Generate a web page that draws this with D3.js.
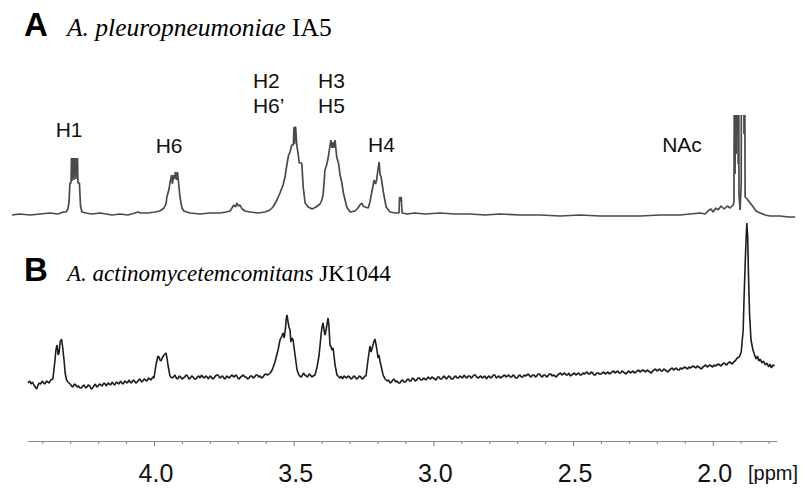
<!DOCTYPE html>
<html><head><meta charset="utf-8">
<script src="https://cdn.jsdelivr.net/npm/d3@7"></script>
<style>body{margin:0;background:#fff}svg{display:block}</style>
</head><body>
<script>
// ---------- data (ppm, intensity in a.u.) ----------
const majorTicks = [4.0, 3.5, 3.0, 2.5, 2.0];
const minorTicks = [4.4,4.3,4.2,4.1,3.9,3.8,3.7,3.6,3.4,3.3,3.2,3.1,2.9,2.8,2.7,2.6,2.4,2.3,2.2,2.1,1.9,1.8];
const axisUnit = "[ppm]";

const panelTitles = [
  {letter: "A", species: "A. pleuropneumoniae", strain: "IA5"},
  {letter: "B", species: "A. actinomycetemcomitans", strain: "JK1044"}
];

const peakLabels = [
  {lines: ["H1"], ppm: 4.304, anchor: "middle"},
  {lines: ["H6"], ppm: 3.946, anchor: "middle"},
  {lines: ["H2", "H6\u2019"], ppm: 3.646, anchor: "start"},
  {lines: ["H3", "H5"], ppm: 3.413, anchor: "start"},
  {lines: ["H4"], ppm: 3.234, anchor: "start"},
  {lines: ["NAc"], ppm: 2.110, anchor: "middle"}
];

// Spectrum A (A. pleuropneumoniae IA5)
const spectrumA = [
[4.508,-1],[4.480,0],[4.444,-1],[4.408,0],[4.372,1],[4.344,0],[4.326,2],[4.315,2],[4.308,5],[4.304,12],
[4.301,31],[4.297,31],[4.2954,56],[4.2936,33],[4.2918,56],[4.2900,36],[4.2882,56],[4.2864,34],[4.2847,56],[4.2829,38],
[4.2811,56],[4.2793,35],[4.2775,56],[4.2757,40],[4.2739,56],[4.2721,31],[4.2703,31],[4.267,31],[4.263,8],[4.258,2],
[4.244,1],[4.222,0],[4.193,1],[4.172,0],[4.150,-1],[4.122,0],[4.093,-1],
[4.068,1],[4.057,2],[4.047,1],[4.022,1],[3.997,2],[3.979,3],[3.964,6],[3.957,10],[3.954,17],[3.946,25],
[3.943,31],[3.937,39],[3.934,30],[3.930,39],[3.927,35],[3.923,42],[3.919,34],[3.916,42],[3.912,31],[3.907,17],
[3.900,6],[3.893,3],[3.871,1],[3.835,0],[3.800,1],[3.764,1],[3.742,2],[3.728,3],[3.721,6],[3.714,9],
[3.708,7],[3.703,11],[3.698,8],[3.692,9],[3.685,5],[3.674,3],[3.656,2],[3.628,1],[3.603,2],[3.585,4],
[3.574,7],[3.560,14],[3.549,21],[3.538,29],[3.531,37],[3.524,50],[3.518,59],[3.513,62],[3.507,69],[3.501,69],
[3.499,87],[3.497,70],[3.495,87],[3.493,87],[3.489,69],[3.484,60],[3.480,51],[3.471,51],[3.466,27],[3.459,11],[3.448,7],
[3.434,5],[3.420,7],[3.406,10],[3.399,14],[3.394,21],[3.388,44],[3.381,50],[3.376,57],[3.367,74],[3.363,66],
[3.358,72],[3.355,66],[3.352,74],[3.346,57],[3.339,50],[3.334,39],[3.328,32],[3.322,21],[3.310,7],[3.298,2],
[3.280,3],[3.270,6],[3.263,9],[3.256,11],[3.252,8],[3.245,7],[3.233,6],[3.227,12],[3.221,21],[3.212,34],
[3.207,30],[3.203,34],[3.198,45],[3.194,52],[3.192,44],[3.191,40],[3.187,37],[3.179,22],[3.169,7],[3.155,2],[3.137,1],
[3.123,1],[3.121,17],[3.118,13],[3.115,17],[3.112,1],[3.094,0],[3.066,1],[3.030,0],[2.976,1],[2.922,0],[2.869,0],
[2.815,-1],[2.761,0],[2.690,-1],[2.618,-1],[2.546,-2],[2.475,-1],[2.403,-2],[2.332,-2],[2.260,-2],[2.188,-1],
[2.117,-1],[2.081,0],[2.045,1],[2.027,0],[2.017,3],[2.006,5],[1.999,2],[1.988,6],[1.981,4],[1.970,8],
[1.959,5],[1.948,8],[1.938,6],[1.927,9],[1.924,12],
[1.922,200],[1.920,40],[1.918,200],[1.916,60],[1.914,200],[1.913,80],[1.911,200],[1.909,50],[1.907,200],[1.906,20],
[1.902,4],[1.898,30],[1.897,200],[1.895,100],[1.893,200],[1.891,120],[1.889,200],[1.888,80],[1.886,200],[1.884,17],
[1.877,15],[1.866,11],[1.855,7],[1.845,3],[1.830,1],[1.812,-1],[1.795,-2],[1.759,-2],[1.730,-3],[1.705,-3]
];

// Spectrum B (A. actinomycetemcomitans JK1044)
const spectrumB = [
[4.451,2],[4.445,4],[4.44,1],[4.435,3],[4.43,0],[4.425,-2],[4.42,-4],[4.415,0],[4.41,2],[4.405,1],[4.40,4],[4.395,2],[4.39,1],[4.385,4],[4.38,3],[4.375,2],[4.37,5],
[4.362,6],[4.355,23],[4.351,35],[4.347,40],[4.343,30],[4.340,32],[4.336,43],[4.331,46],[4.327,38],[4.322,25],[4.318,12],[4.313,5],[4.308,3],
[4.30,1],[4.295,-1],[4.29,-2],[4.285,1],[4.28,0],[4.275,-2],[4.27,-1],[4.265,-3],[4.26,-3],[4.255,-1],[4.25,0],[4.245,-3],[4.24,-2],[4.235,0],[4.23,-1],[4.225,-4],[4.22,-3],[4.215,-1],[4.21,1],[4.205,-2],[4.20,-1],
[4.195,1],[4.19,0],[4.185,-1],[4.18,2],[4.175,1],[4.17,-1],[4.165,2],[4.16,1],[4.155,0],[4.15,3],[4.145,1],[4.14,0],[4.135,3],[4.13,2],[4.125,1],[4.12,4],[4.115,2],[4.11,1],[4.105,4],[4.10,3],
[4.095,2],[4.09,5],[4.085,3],[4.08,2],[4.075,5],[4.07,4],[4.065,2],[4.06,3],[4.055,5],[4.05,6],[4.045,3],[4.04,4],[4.035,6],[4.03,5],[4.025,4],[4.02,7],[4.015,6],[4.01,5],[4.005,8],[4.00,7],
[3.993,20],[3.986,29],[3.982,28],[3.979,25],[3.975,24],[3.971,27],[3.964,30],[3.957,32],[3.953,26],[3.950,20],[3.946,14],[3.943,9],[3.936,7],
[3.93,8],[3.925,10],[3.92,7],[3.915,6],[3.91,9],[3.905,8],[3.90,6],[3.895,7],[3.89,8],[3.885,10],[3.88,9],[3.875,6],[3.87,7],[3.865,9],[3.86,8],[3.855,6],[3.85,6],[3.845,8],[3.84,9],[3.835,7],
[3.83,10],[3.825,8],[3.82,7],[3.815,9],[3.81,8],[3.805,6],[3.80,9],[3.795,8],[3.79,6],[3.785,7],[3.78,9],[3.775,10],[3.77,10],[3.765,7],[3.76,8],[3.755,9],[3.75,7],[3.745,6],[3.74,9],[3.735,8],
[3.73,7],[3.725,9],[3.72,10],[3.715,8],[3.71,9],[3.705,10],[3.70,7],[3.695,6],[3.69,8],[3.685,9],[3.68,10],[3.675,8],[3.67,8],[3.665,6],[3.66,7],[3.655,9],[3.65,9],[3.645,7],[3.64,8],[3.635,10],
[3.63,10],[3.625,8],[3.62,9],[3.615,7],[3.61,8],[3.605,10],[3.60,11],
[3.592,10],[3.584,12],[3.577,15],[3.567,23],[3.556,35],[3.549,45],[3.542,49],[3.538,52],[3.534,47],[3.530,55],[3.527,65],[3.524,70],[3.520,63],[3.517,58],
[3.513,55],[3.510,43],[3.506,47],[3.502,45],[3.499,38],[3.495,30],[3.488,15],[3.481,10],[3.475,8],[3.47,9],[3.465,12],[3.46,10],[3.455,9],[3.45,8],[3.445,11],[3.44,10],[3.435,8],[3.43,9],
[3.424,10],[3.417,17],[3.409,30],[3.402,50],[3.399,57],[3.395,62],[3.391,55],[3.388,50],[3.384,55],[3.381,60],[3.377,67],[3.374,60],[3.370,40],[3.366,38],
[3.363,35],[3.359,37],[3.355,28],[3.352,20],[3.345,10],[3.338,8],
[3.333,7],[3.33,9],[3.325,6],[3.32,9],[3.315,8],[3.31,7],[3.305,9],[3.30,8],[3.295,6],[3.29,7],[3.285,9],[3.28,8],[3.275,6],[3.27,7],[3.265,9],[3.26,8],[3.255,6],[3.25,7],[3.245,9],
[3.241,9],[3.234,25],[3.227,39],[3.223,33],[3.220,36],[3.216,40],[3.212,44],[3.209,46],[3.205,40],[3.202,35],[3.198,27],[3.195,30],[3.191,24],[3.187,19],[3.180,10],[3.173,6],
[3.165,4],[3.16,5],[3.155,2],[3.15,3],[3.145,5],[3.14,6],[3.135,3],[3.13,4],[3.125,2],[3.12,2],[3.115,4],[3.11,5],[3.105,3],[3.10,3],[3.095,5],[3.09,6],[3.085,4],[3.08,4],[3.075,7],[3.07,6],
[3.065,4],[3.06,5],[3.055,7],[3.05,7],[3.045,5],[3.04,5],[3.035,7],[3.03,6],[3.025,5],[3.02,8],[3.015,7],[3.01,6],[3.005,8],[3.00,7],
[2.995,6],[2.99,5],[2.985,8],[2.98,8],[2.975,6],[2.97,6],[2.965,8],[2.96,9],[2.955,6],[2.95,7],[2.945,9],[2.94,8],[2.935,6],[2.93,6],[2.925,8],[2.92,9],[2.915,7],[2.91,7],[2.905,9],[2.90,8],
[2.895,7],[2.89,10],[2.885,8],[2.88,7],[2.875,9],[2.87,9],[2.865,7],[2.86,8],[2.855,10],[2.85,10],[2.845,8],[2.84,7],[2.835,8],[2.83,9],[2.825,7],[2.82,8],[2.815,9],[2.81,6],[2.805,8],[2.80,9],
[2.795,7],[2.79,8],[2.785,10],[2.78,10],[2.775,7],[2.77,8],[2.765,9],[2.76,7],[2.755,8],[2.75,9],[2.745,10],[2.74,8],[2.735,9],[2.73,10],[2.725,8],[2.72,8],[2.715,10],[2.71,9],[2.705,7],[2.70,7],
[2.695,9],[2.69,10],[2.685,8],[2.68,8],[2.675,10],[2.67,9],[2.665,10],[2.66,11],[2.655,9],[2.65,8],[2.645,10],[2.64,10],[2.635,8],[2.63,9],[2.625,11],[2.62,11],[2.615,9],[2.61,8],[2.605,10],[2.60,10],
[2.595,8],[2.59,9],[2.585,11],[2.58,11],[2.575,9],[2.57,10],[2.565,9],[2.56,8],[2.555,10],[2.55,11],[2.545,12],[2.54,10],[2.535,11],[2.53,12],[2.525,10],[2.52,10],[2.515,12],[2.51,9],[2.505,10],[2.50,11],
[2.495,12],[2.49,10],[2.485,11],[2.48,12],[2.475,10],[2.47,10],[2.465,12],[2.46,11],[2.455,12],[2.45,13],[2.445,11],[2.44,11],[2.435,13],[2.43,12],[2.425,10],[2.42,10],[2.415,12],[2.41,12],[2.405,11],[2.40,11],
[2.395,12],[2.39,13],[2.385,11],[2.38,12],[2.375,13],[2.37,11],[2.365,12],[2.36,13],[2.355,14],[2.35,12],[2.345,13],[2.34,14],[2.335,12],[2.33,12],[2.325,14],[2.32,13],[2.315,12],[2.31,11],[2.305,13],[2.30,14],
[2.295,12],[2.29,13],[2.285,14],[2.28,12],[2.275,13],[2.27,14],[2.265,15],[2.26,13],[2.255,14],[2.25,15],[2.245,14],[2.24,13],[2.235,15],[2.23,14],[2.225,13],[2.22,12],[2.215,14],[2.21,15],[2.205,16],[2.20,14],
[2.195,15],[2.19,16],[2.185,14],[2.18,14],[2.175,16],[2.17,15],[2.165,14],[2.16,13],[2.155,15],[2.15,16],[2.145,17],[2.14,15],[2.135,16],[2.13,17],[2.125,15],[2.12,15],[2.115,17],[2.11,16],[2.105,17],[2.10,18],
[2.095,17],[2.09,16],[2.085,18],[2.08,17],[2.075,18],[2.07,19],[2.065,18],[2.06,17],[2.055,19],[2.05,18],[2.045,17],[2.04,16],[2.035,18],[2.03,19],[2.025,20],[2.02,18],[2.015,19],[2.01,20],[2.005,19],[2.00,18],
[1.995,20],[1.99,19],[1.985,20],[1.98,21],[1.975,20],[1.97,19],[1.965,21],[1.96,22],[1.955,21],[1.95,20],[1.945,22],[1.94,23],[1.935,22],[1.93,21],[1.925,23],
[1.920,24],[1.912,27],[1.905,28],[1.898,33],[1.891,55],[1.888,85],[1.884,120],[1.880,150],[1.878,162],[1.875,150],[1.872,110],[1.868,70],[1.863,45],[1.856,35],
[1.850,30],[1.845,26],[1.840,29],[1.835,24],[1.830,26],[1.824,22],[1.818,24],[1.812,20],[1.806,22],[1.800,18],[1.795,21],[1.790,17],[1.785,20],[1.779,19]
];

// ---------- drawing ----------
const W = 807, H = 491;
const svg = d3.select("body").append("svg").attr("width", W).attr("height", H)
  .style("background", "#fff");

const x = d3.scaleLinear().domain([4.451, 1.771]).range([28, 776.7]);
const yA = d3.scaleLinear().domain([0, 100]).range([214, 114]);
const yB = d3.scaleLinear().domain([0, 100]).range([385, 285]);

svg.append("defs").append("clipPath").attr("id", "clipA")
  .append("rect").attr("x", 0).attr("y", 115).attr("width", W).attr("height", 130);

const lineA = d3.line().x(d => x(d[0])).y(d => yA(d[1]));
const lineB = d3.line().x(d => x(d[0])).y(d => yB(d[1]));

svg.append("path").datum(spectrumA).attr("d", lineA)
  .attr("clip-path", "url(#clipA)")
  .attr("fill", "none").attr("stroke", "#4a4a4a").attr("stroke-width", 1.7)
  .attr("stroke-linejoin", "bevel");

svg.append("path").datum(spectrumB).attr("d", lineB)
  .attr("fill", "none").attr("stroke", "#1e1e1e").attr("stroke-width", 1.6)
  .attr("stroke-linejoin", "bevel");

// titles
const titleY = [36, 281];
const titleSize = [25.5, 23];
panelTitles.forEach((t, i) => {
  svg.append("text").attr("x", 24).attr("y", titleY[i])
    .attr("font-family", "'Liberation Sans', Arial, sans-serif")
    .attr("font-weight", "bold").attr("font-size", 33).attr("fill", "#000").text(t.letter);
  const tx = svg.append("text").attr("x", 67).attr("y", titleY[i])
    .attr("font-family", "'Liberation Serif', 'Times New Roman', serif")
    .attr("font-size", titleSize[i]).attr("fill", "#000");
  tx.append("tspan").attr("font-style", "italic").text(t.species);
  tx.append("tspan").text(" " + t.strain);
});

// peak labels
const labelBase = {"H1": 137, "H6": 153, "H2": 88, "H3": 88, "H4": 152, "NAc": 152};
peakLabels.forEach(p => {
  const t = svg.append("text")
    .attr("font-family", "'Liberation Sans', Arial, sans-serif")
    .attr("font-size", 21).attr("fill", "#111").attr("text-anchor", p.anchor);
  p.lines.forEach((ln, j) => {
    t.append("tspan").attr("x", x(p.ppm)).attr("y", labelBase[p.lines[0]] + j * 25).text(ln);
  });
});

// axis
const axisY = 441;
svg.append("g").attr("transform", `translate(0,${axisY})`)
  .call(d3.axisBottom(x).tickValues(minorTicks).tickSize(3).tickFormat("").tickSizeOuter(0));
svg.append("g").attr("transform", `translate(0,${axisY})`)
  .call(d3.axisBottom(x).tickValues(majorTicks).tickSize(5).tickFormat("").tickSizeOuter(0));
svg.selectAll(".domain").attr("stroke", "#8a8a8a").attr("stroke-width", 1.2);
svg.selectAll(".tick line").attr("stroke", "#777");

svg.append("g").selectAll("text").data(majorTicks).join("text")
  .attr("x", d => x(d) + 2).attr("y", 482)
  .attr("text-anchor", "middle")
  .attr("font-family", "'Liberation Sans', Arial, sans-serif")
  .attr("font-size", 25).attr("fill", "#111")
  .text(d => d3.format(".1f")(d));

svg.append("text").attr("x", 748).attr("y", 480)
  .attr("font-family", "'Liberation Sans', Arial, sans-serif")
  .attr("font-size", 20).attr("fill", "#111").text(axisUnit);
</script>
</body></html>
